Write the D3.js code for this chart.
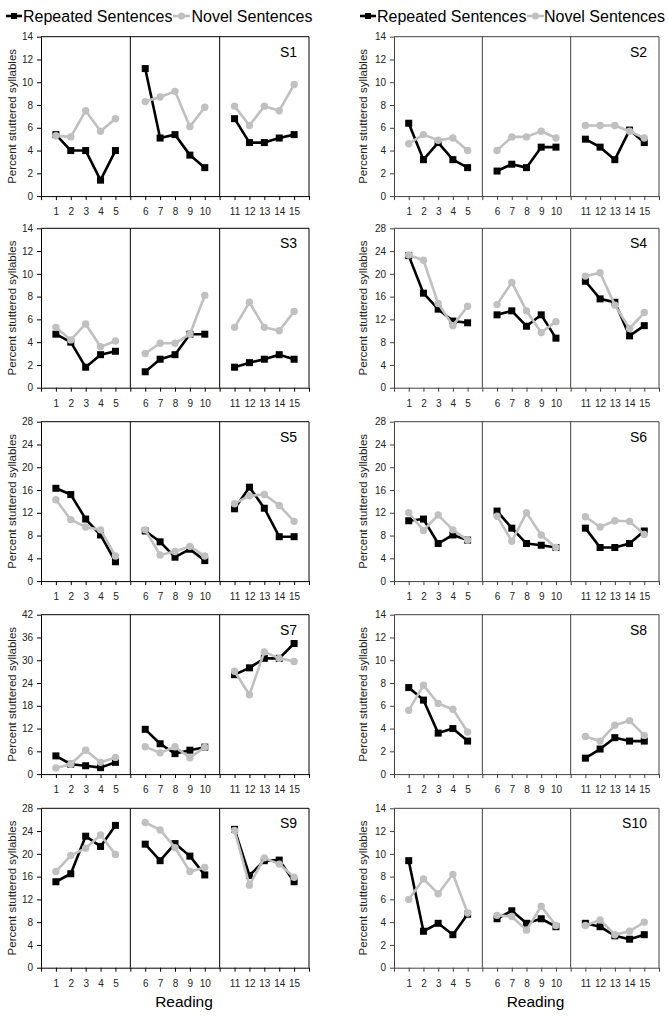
<!DOCTYPE html>
<html><head><meta charset="utf-8">
<script src="https://cdn.jsdelivr.net/npm/d3@7"></script>
<style>
body{margin:0;background:#fff;}
svg{display:block;font-family:"Liberation Sans",Arial,sans-serif;}
</style></head>
<body>
<svg id="chart" width="669" height="1017"></svg>
<script>
// ---------- DATA ----------
const readings = d3.range(1, 16);
const subjects = ["S1","S2","S3","S4","S5","S6","S7","S8","S9","S10"];
const yMaxes   = [14, 14, 14, 28, 28, 28, 42, 14, 28, 14];
const yStep    = [2, 2, 2, 4, 4, 4, 6, 2, 4, 2];
const seriesNames = ["Repeated Sentences", "Novel Sentences"];

const s1Repeated  = [5.4,4.0,4.0,1.4,4.0, 11.2,5.1,5.4,3.6,2.5, 6.8,4.7,4.7,5.1,5.4];
const s1Novel     = [5.3,5.2,7.5,5.7,6.8, 8.3,8.7,9.2,6.1,7.8, 7.9,6.2,7.9,7.5,9.8];
const s2Repeated  = [6.4,3.2,4.7,3.2,2.5, 2.2,2.8,2.5,4.3,4.3, 5.0,4.3,3.2,5.8,4.7];
const s2Novel     = [4.6,5.4,4.9,5.1,4.0, 4.0,5.2,5.2,5.7,5.1, 6.2,6.2,6.2,5.7,5.1];
const s3Repeated  = [4.7,4.0,1.8,2.9,3.2, 1.4,2.5,2.9,4.7,4.7, 1.8,2.2,2.5,2.9,2.5];
const s3Novel     = [5.3,4.2,5.6,3.6,4.1, 3.0,3.9,3.9,4.7,8.1, 5.3,7.5,5.3,5.0,6.7];
const s4Repeated  = [23.2,16.6,13.8,11.7,11.4, 12.8,13.5,10.8,12.8,8.7, 18.7,15.6,15.0,9.1,10.9];
const s4Novel     = [23.3,22.4,14.8,10.9,14.3, 14.6,18.5,13.5,9.7,11.6, 19.6,20.2,14.5,10.4,13.2];
const s5Repeated  = [16.3,15.2,10.9,8.1,3.4, 8.8,6.9,4.2,5.6,3.6, 12.7,16.5,12.8,7.8,7.8];
const s5Novel     = [14.3,10.8,9.5,9.0,4.4, 9.0,4.6,5.2,6.1,4.4, 13.6,15.0,15.2,13.3,10.5];
const s6Repeated  = [10.6,10.9,6.6,8.1,7.2, 12.3,9.3,6.6,6.3,5.9, 9.3,5.9,5.9,6.6,8.8];
const s6Novel     = [12.0,8.9,11.6,9.0,7.2, 11.4,7.0,12.0,8.1,5.9, 11.3,9.5,10.6,10.5,8.2];
const s7Repeated  = [4.8,2.6,2.2,1.7,3.1, 11.8,8.0,5.4,6.3,7.1, 26.2,28.0,30.5,30.5,34.4];
const s7Novel     = [1.6,2.6,6.3,3.1,4.4, 7.2,5.6,7.2,4.3,7.1, 27.1,20.9,32.2,30.5,29.7];
const s8Repeated  = [7.6,6.5,3.6,4.0,2.9, null,null,null,null,null, 1.4,2.2,3.2,2.9,2.9];
const s8Novel     = [5.6,7.8,6.2,5.7,3.7, null,null,null,null,null, 3.3,2.9,4.3,4.7,3.4];
const s9Repeated  = [15.1,16.5,23.1,21.3,25.0, 21.7,18.8,21.8,19.6,16.3, 24.3,16.2,18.8,18.9,15.1];
const s9Novel     = [16.9,19.7,21.0,23.3,19.9, 25.5,24.2,21.1,16.9,17.6, 24.1,14.5,19.3,18.2,15.9];
const s10Repeated = [9.4,3.2,3.9,2.9,4.7, 4.3,5.0,3.9,4.3,3.6, 3.9,3.6,2.8,2.5,2.9];
const s10Novel    = [6.0,7.8,6.5,8.2,4.8, 4.6,4.5,3.3,5.4,3.7, 3.7,4.2,2.9,3.2,4.0];

const repeatedAll = [s1Repeated,s2Repeated,s3Repeated,s4Repeated,s5Repeated,s6Repeated,s7Repeated,s8Repeated,s9Repeated,s10Repeated];
const novelAll    = [s1Novel,s2Novel,s3Novel,s4Novel,s5Novel,s6Novel,s7Novel,s8Novel,s9Novel,s10Novel];

// ---------- LAYOUT ----------
const svg = d3.select("#chart");
const colX = [{x0:41, x1:309, ylab:12, axisColor:"#000"}, {x0:394, x1:659, ylab:363, axisColor:"#404040"}];
const rowTop = [36.7, 228.3, 421.7, 614.7, 808.3];
const plotH = 159.4;
const REP = "#000000", NOV = "#c0c0c0";

function slotOf(r){ const seg = Math.floor((r-1)/5); return seg*6 + ((r-1)%5) + 1; }

subjects.forEach((name, i) => {
  const col = colX[i % 2];
  const top = rowTop[Math.floor(i/2)];
  const bottom = top + plotH;
  const x = d3.scaleLinear().domain([0, 18]).range([col.x0, col.x1]);
  const y = d3.scaleLinear().domain([0, yMaxes[i]]).range([bottom, top]);
  const g = svg.append("g");

  // y axis
  const ya = g.append("g").attr("transform", `translate(${col.x0},0)`)
    .call(d3.axisLeft(y).tickValues(d3.range(0, yMaxes[i] + 0.001, yStep[i])).tickSize(4).tickPadding(4).tickSizeOuter(0));
  ya.selectAll("text").attr("font-size", 10).attr("fill", "#222").attr("font-family", "Liberation Sans, Arial, sans-serif");
  ya.selectAll("line,path").attr("stroke", col.axisColor);

  // x axis
  const xa = g.append("g").attr("transform", `translate(0,${bottom})`)
    .call(d3.axisBottom(x).tickValues(d3.range(0, 19)).tickSize(4).tickPadding(8).tickSizeOuter(0)
      .tickFormat(k => (k % 6 === 0) ? "" : String(Math.floor(k/6)*5 + (k%6))));
  xa.selectAll("text").attr("font-size", 10).attr("fill", "#222").attr("font-family", "Liberation Sans, Arial, sans-serif");
  xa.selectAll("line,path").attr("stroke", col.axisColor);

  // box and separators
  g.append("line").attr("x1", col.x0).attr("x2", col.x1).attr("y1", top).attr("y2", top).attr("stroke", col.axisColor);
  [6, 12, 18].forEach(k => {
    g.append("line").attr("x1", x(k)).attr("x2", x(k)).attr("y1", top).attr("y2", bottom).attr("stroke", col.axisColor);
  });

  // y axis title
  g.append("text").attr("transform", `translate(${col.ylab},${(top+bottom)/2}) rotate(-90)`)
    .attr("text-anchor", "middle").attr("dy", "0.35em").attr("font-size", 11.5).attr("fill", "#222")
    .text("Percent stuttered syllables");

  // panel label
  g.append("text").attr("x", col.x1 - 12).attr("y", top + 20).attr("text-anchor", "end")
    .attr("font-size", 14).attr("fill", "#000").text(name);

  // series
  const drawSeries = (vals, color, marker) => {
    const pts = readings.map((r, j) => ({r, v: vals[j], seg: Math.floor((r-1)/5)})).filter(d => d.v != null);
    const line = d3.line().x(d => x(slotOf(d.r))).y(d => y(d.v));
    d3.groups(pts, d => d.seg).forEach(([seg, arr]) => {
      g.append("path").attr("d", line(arr)).attr("fill", "none").attr("stroke", color).attr("stroke-width", 2.6).attr("stroke-linejoin", "round");
    });
    if (marker === "square") {
      g.selectAll(null).data(pts).enter().append("rect")
        .attr("x", d => x(slotOf(d.r)) - 3.5).attr("y", d => y(d.v) - 3.5).attr("width", 7).attr("height", 7).attr("fill", color);
    } else {
      g.selectAll(null).data(pts).enter().append("circle")
        .attr("cx", d => x(slotOf(d.r))).attr("cy", d => y(d.v)).attr("r", 3.7).attr("fill", color);
    }
  };
  drawSeries(repeatedAll[i], REP, "square");
  drawSeries(novelAll[i], NOV, "circle");
});

// legends
const legendPos = [{mx:6, tx:23, m2:173, t2:191.5}, {mx:360, tx:377, m2:527, t2:544}];
legendPos.forEach(p => {
  const ly = 16;
  svg.append("line").attr("x1", p.mx).attr("x2", p.mx + 16).attr("y1", ly).attr("y2", ly).attr("stroke", REP).attr("stroke-width", 2.6);
  svg.append("rect").attr("x", p.mx + 5).attr("y", ly - 3).attr("width", 6).attr("height", 6).attr("fill", REP);
  svg.append("text").attr("x", p.tx).attr("y", ly).attr("dy", "0.35em").attr("font-size", 16).attr("fill", "#000").text(seriesNames[0]);
  svg.append("line").attr("x1", p.m2).attr("x2", p.m2 + 17).attr("y1", ly).attr("y2", ly).attr("stroke", NOV).attr("stroke-width", 2.6);
  svg.append("circle").attr("cx", p.m2 + 8.5).attr("cy", ly).attr("r", 3.5).attr("fill", NOV);
  svg.append("text").attr("x", p.t2).attr("y", ly).attr("dy", "0.35em").attr("font-size", 16).attr("fill", "#000").text(seriesNames[1]);
});

// "Reading" titles
colX.forEach(col => {
  svg.append("text").attr("x", (col.x0 + col.x1)/2 + 9).attr("y", 1002).attr("dy", "0.35em")
    .attr("text-anchor", "middle").attr("font-size", 15.5).attr("fill", "#000").text("Reading");
});
</script>
</body></html>
